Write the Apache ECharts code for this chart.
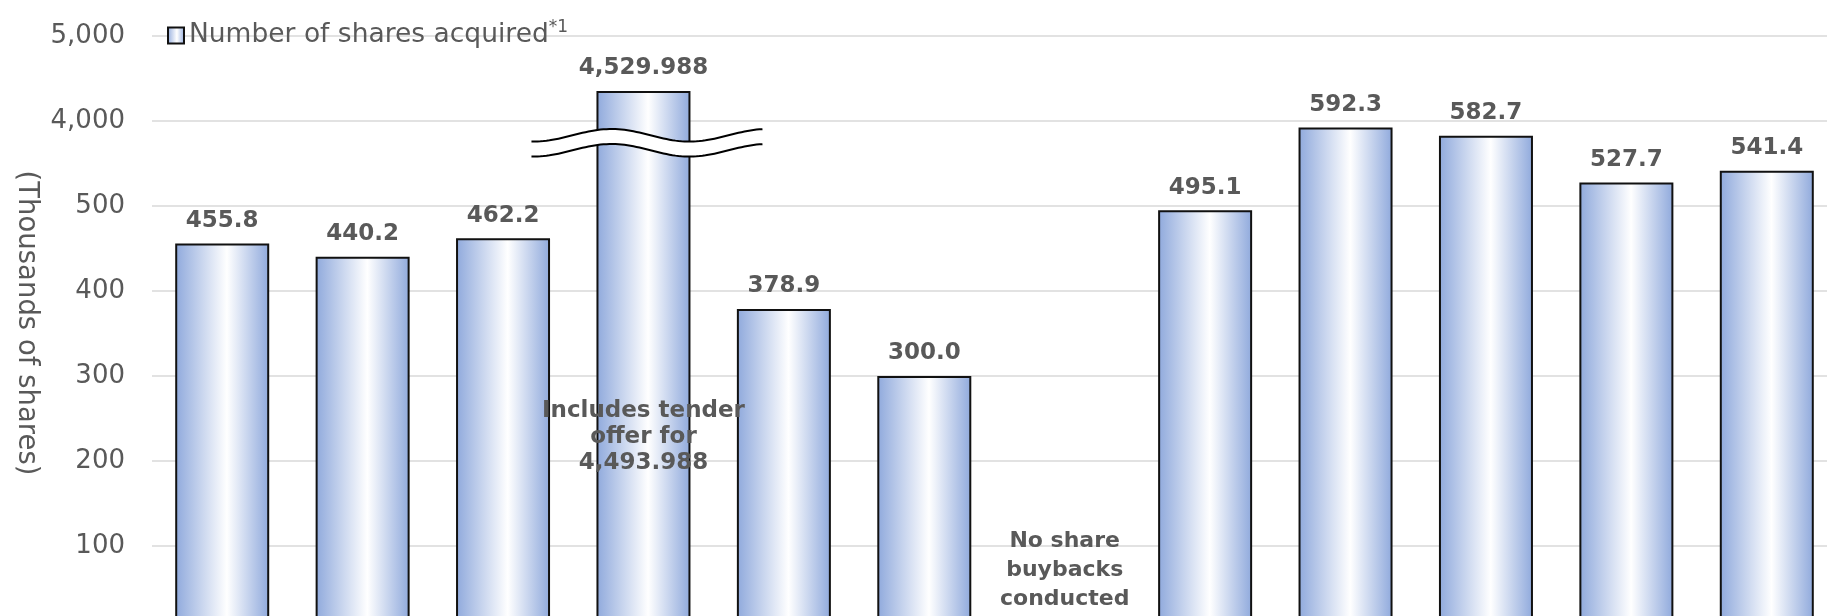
<!DOCTYPE html>
<html>
<head>
<meta charset="utf-8">
<script src="https://cdn.jsdelivr.net/npm/echarts@6/dist/echarts.min.js"></script>
<style>
  html, body { margin: 0; padding: 0; background: #ffffff; }
  #chart { width: 1827px; height: 616px; }
</style>
</head>
<body>
<div id="chart"></div>
<script>
// ---- Data ----
const categories = ['P1', 'P2', 'P3', 'P4', 'P5', 'P6', 'P7', 'P8', 'P9', 'P10', 'P11', 'P12'];
const sharesAcquired = [455.8, 440.2, 462.2, 4529.988, 378.9, 300.0, null, 495.1, 592.3, 582.7, 527.7, 541.4];
const seriesName = 'Number of shares acquired';
const seriesNote = '*1';
const yAxisTitle = '(Thousands of shares)';
// axis positions 0..700; above 500 the axis is broken (600 -> 4,000, 700 -> 5,000)
const yTickValues = [0, 100, 200, 300, 400, 500, 600, 700];
const yTickLabels = ['0', '100', '200', '300', '400', '500', '4,000', '5,000'];
const tenderOfferShares = 4493.988;
const tenderNote = 'Includes tender\noffer for\n' + tenderOfferShares.toLocaleString('en-US', {minimumFractionDigits: 3});
const tenderNoteIndex = 3;
const noBuybackNote = 'No share\nbuybacks\nconducted';
const noBuybackIndex = 6;

// broken-axis mapping (values above the break are compressed as in the original)
const BREAK_VALUE = 4000, BREAK_POS = 600, BREAK_COMPRESS = 15;
function toAxis(v) { return v > BREAK_VALUE ? BREAK_POS + (v - BREAK_VALUE) / BREAK_COMPRESS : v; }
function fmt(v) {
  return v >= 1000 ? v.toLocaleString('en-US', {minimumFractionDigits: 3, maximumFractionDigits: 3})
                   : v.toFixed(1);
}

const FONT = 'DejaVu Sans';
const GRAY = '#595959';
const barFill = {
  type: 'linear', x: 0, y: 0, x2: 1, y2: 0,
  colorStops: [
    {offset: 0, color: '#8FA9DC'},
    {offset: 0.55, color: '#FFFFFF'},
    {offset: 1, color: '#8FA9DC'}
  ]
};

const chart = echarts.init(document.getElementById('chart'), null, {renderer: 'canvas'});
const option = {
  animation: false,
  backgroundColor: '#ffffff',
  grid: { left: 152, top: 36, width: 1685, height: 595, containLabel: false, outerBoundsMode: 'none' },
  legend: {
    data: [seriesName],
    left: 162, top: 14,
    icon: 'rect', itemWidth: 16, itemHeight: 16, itemGap: 10,
    formatter: name => '{n|' + name + '}{s|' + seriesNote + '}',
    textStyle: {
      color: GRAY, fontFamily: FONT, fontSize: 26,
      rich: {
        n: { color: GRAY, fontFamily: FONT, fontSize: 26.5 },
        s: { color: GRAY, fontFamily: FONT, fontSize: 17, padding: [0, 0, 16, 0] }
      }
    }
  },
  xAxis: {
    type: 'category', data: categories,
    axisLine: { show: true, lineStyle: { color: '#D9D9D9' } },
    axisTick: { show: false }, axisLabel: { show: false }
  },
  yAxis: {
    type: 'value', min: 0, max: 700, interval: 100,
    axisLine: { show: false }, axisTick: { show: false },
    splitLine: { lineStyle: { color: '#D9D9D9', width: 1.5 } },
    axisLabel: {
      margin: 27, color: GRAY, fontFamily: FONT, fontSize: 26,
      formatter: v => yTickLabels[yTickValues.indexOf(v)]
    }
  },
  series: [{
    name: seriesName, type: 'bar', barWidth: 94,
    itemStyle: { color: barFill, borderColor: '#111111', borderWidth: 2 },
    label: {
      show: true, position: 'top', distance: 11,
      color: GRAY, fontFamily: FONT, fontSize: 23, fontWeight: 'bold',
      formatter: p => fmt(p.data.raw)
    },
    data: sharesAcquired.map(v => v == null ? '-' : { value: toAxis(v), raw: v })
  }]
};
chart.setOption(option);

// overlay: axis title, break symbol, annotations
function wavePoints(cx, cy, x0, x1, phaseX, period, amp) {
  const pts = [];
  for (let x = x0; x <= x1 + 0.01; x += 3) {
    pts.push([x, cy + amp * Math.cos(2 * Math.PI * (x - (cx + phaseX)) / period)]);
  }
  return pts;
}
const c3 = chart.convertToPixel({gridIndex: 0}, [tenderNoteIndex, BREAK_POS]);
const breakCx = c3[0], y600 = c3[1];
const waveTop = wavePoints(breakCx, y600 + 14.3, breakCx - 112, breakCx + 120, 46, 156, 6.3);
const waveBot = wavePoints(breakCx, y600 + 29.3, breakCx - 112, breakCx + 120, 46, 156, 6.3);
const fillPts = waveTop.concat(waveBot.slice().reverse());

const a1 = chart.convertToPixel({gridIndex: 0}, [tenderNoteIndex, 228]);
const a2 = chart.convertToPixel({gridIndex: 0}, [noBuybackIndex, 72]);

chart.setOption({
  graphic: [
    { type: 'polygon', z: 100, shape: { points: fillPts }, style: { fill: '#ffffff', stroke: null } },
    { type: 'polyline', z: 101, shape: { points: waveTop }, style: { stroke: '#000000', lineWidth: 2, fill: null } },
    { type: 'polyline', z: 101, shape: { points: waveBot }, style: { stroke: '#000000', lineWidth: 2, fill: null } },
    { type: 'text', z: 102, x: a1[0], y: a1[1],
      style: { text: tenderNote, fill: GRAY, font: 'bold 23px "DejaVu Sans"', align: 'center', verticalAlign: 'middle', lineHeight: 26 } },
    { type: 'text', z: 102, x: a2[0], y: a2[1],
      style: { text: noBuybackNote, fill: GRAY, font: 'bold 22px "DejaVu Sans"', align: 'center', verticalAlign: 'middle', lineHeight: 29 } },
    { type: 'text', z: 102, x: 26, y: 323, rotation: -Math.PI / 2,
      style: { text: yAxisTitle, fill: GRAY, font: '27.5px "DejaVu Sans"', align: 'center', verticalAlign: 'middle' } }
  ]
});
</script>
</body>
</html>
